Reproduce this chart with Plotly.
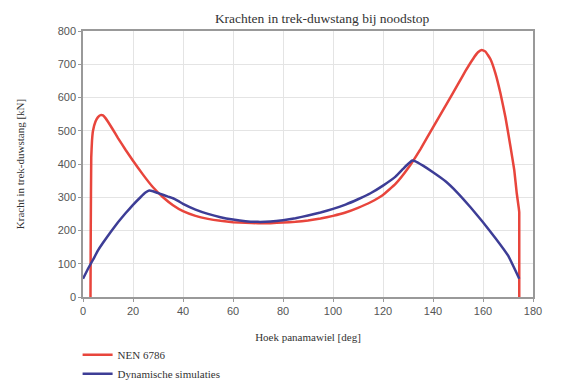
import plotly.graph_objects as go

# NEN 6786 curve
nen_x = [3, 3.1, 3.3, 3.6, 4, 5, 6, 7, 8, 9, 10, 12, 14, 17, 20, 24, 28, 32, 36, 40,
         45, 50, 55, 60, 65, 70, 75, 80, 85, 90, 95, 100, 105, 110, 115, 120, 125, 130,
         135, 140, 145, 150, 153, 156, 158, 159.5, 161, 163, 165, 167, 169, 171, 172.5,
         173.5, 174.3, 174.5, 174.5]
nen_y = [0, 200, 420, 470, 500, 528, 541, 547, 546, 538, 527, 503, 478, 443, 410, 368,
         330, 300, 276, 258, 244, 235, 229, 225, 223, 222, 222, 224, 226, 230, 236, 244,
         254, 268, 285, 307, 340, 387, 445, 510, 575, 640, 680, 716, 736, 743, 738, 715,
         672, 612, 540, 452, 382, 312, 268, 255, 0]

# Dynamische simulaties curve
dyn_x = [0, 2, 4, 6, 8, 11, 14, 17, 20, 23, 25, 26.5, 28, 31, 34, 36, 38, 40, 45, 50,
         55, 60, 65, 70, 75, 80, 85, 90, 95, 100, 105, 110, 115, 120, 125, 128, 130,
         131.5, 133, 136, 140, 145, 150, 155, 160, 165, 170, 174.5]
dyn_y = [55, 85, 112, 140, 163, 195, 225, 252, 277, 300, 314, 320, 318, 310, 302, 297,
         289, 280, 263, 250, 240, 233, 228, 226, 227, 231, 237, 245, 254, 265, 278, 294,
         312, 335, 362, 385, 400, 410, 408, 395, 375, 348, 312, 270, 225, 177, 125, 55]

x_ticks = [0, 20, 40, 60, 80, 100, 120, 140, 160, 180]
y_ticks = [0, 100, 200, 300, 400, 500, 600, 700, 800]

serif = "Liberation Serif"
sans = "Liberation Sans"

fig = go.Figure()
fig.add_trace(go.Scatter(x=nen_x, y=nen_y, mode="lines", name="NEN 6786",
                         line=dict(color="#e8453c", width=2.5, shape="spline", smoothing=0.3)))
fig.add_trace(go.Scatter(x=dyn_x, y=dyn_y, mode="lines", name="Dynamische simulaties",
                         line=dict(color="#3d3d96", width=2.5, shape="spline", smoothing=0.3)))

# the page body adds an 8 px margin, so the figure is drawn 8 px smaller
fig.update_layout(
    width=554, height=374,
    margin=dict(l=75, r=29, t=23, b=85, autoexpand=False),
    paper_bgcolor="white", plot_bgcolor="white",
    title=dict(text="Krachten in trek-duwstang bij noodstop", x=0.567, xanchor="center",
               y=0.972, yanchor="middle", automargin=False,
               font=dict(family=serif, size=13.5, color="#333")),
    showlegend=True,
    legend=dict(x=-0.012, xanchor="left", y=-0.163, yanchor="top",
                font=dict(family=serif, size=11, color="#333"),
                bgcolor="rgba(0,0,0,0)", tracegroupgap=0, itemwidth=30),
    xaxis=dict(range=[0, 180], tickvals=x_ticks, showgrid=True, gridcolor="#e4e4e4",
               showline=True, linecolor="#999", linewidth=1.5, mirror=True,
               ticks="outside", ticklen=3, tickcolor="#999", zeroline=False,
               automargin=False,
               tickfont=dict(family=sans, size=11, color="#555"),
               title=dict(text="Hoek panamawiel [deg]", standoff=17,
                          font=dict(family=serif, size=11, color="#333"))),
    yaxis=dict(range=[0, 800], tickvals=y_ticks, showgrid=True, gridcolor="#e4e4e4",
               showline=True, linecolor="#999", linewidth=1.5, mirror=True,
               ticks="outside", ticklen=3, tickcolor="#999", zeroline=False,
               automargin=False,
               tickfont=dict(family=sans, size=11, color="#555"),
               title=dict(text="Kracht in trek-duwstang [kN]", standoff=31,
                          font=dict(family=serif, size=11, color="#333"))),
)

fig.write_html("out.html")
